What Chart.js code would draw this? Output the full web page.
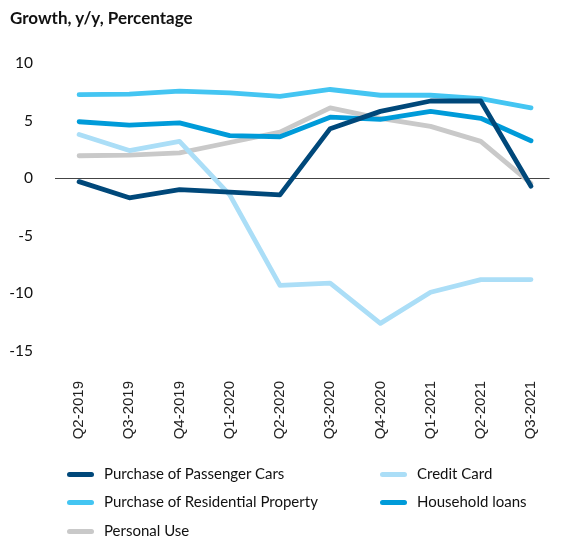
<!DOCTYPE html>
<html>
<head>
<meta charset="utf-8">
<script src="https://cdn.jsdelivr.net/npm/chart.js@4.4.1/dist/chart.umd.min.js"></script>
<style>
  body { margin: 0; background: #fff; }
  #wrap { position: relative; width: 571px; height: 538px; font-family: Lato, "Noto Sans", sans-serif; color: #111; }
  #titulo { position: absolute; left: 10px; top: 7px; font-size: 17px; font-weight: bold; }
  #leyenda { position: absolute; left: 67px; top: 463px; width: 480px; }
  .item { position: absolute; font-size: 15px; white-space: nowrap; height: 20px; line-height: 20px; }
  .item i { display: inline-block; width: 27px; height: 5px; border-radius: 3px; vertical-align: middle; margin-right: 10px; position: relative; top: -1px; }
</style>
</head>
<body>
<div id="wrap">
  <div id="titulo">Growth, y/y, Percentage</div>
  <canvas id="grafico" width="571" height="538"></canvas>
  <div id="leyenda"></div>
</div>
<script>
// --- DATOS ---
const trimestres = ['Q2-2019', 'Q3-2019', 'Q4-2019', 'Q1-2020', 'Q2-2020', 'Q3-2020', 'Q4-2020', 'Q1-2021', 'Q2-2021', 'Q3-2021'];
const autos       = [-0.3, -1.7, -1.0, -1.2, -1.45, 4.3, 5.8, 6.7, 6.7, -0.7];
const tarjeta     = [3.8, 2.4, 3.2, -1.45, -9.3, -9.1, -12.6, -9.9, -8.8, -8.8];
const vivienda    = [7.25, 7.3, 7.55, 7.4, 7.1, 7.7, 7.2, 7.2, 6.9, 6.1];
const hogares     = [4.9, 4.6, 4.8, 3.7, 3.6, 5.3, 5.1, 5.8, 5.2, 3.25];
const personal    = [1.95, 2.0, 2.2, 3.1, 4.0, 6.1, 5.2, 4.5, 3.2, -0.45];
const ticksY      = [-15, -10, -5, 0, 5, 10];

const series = [
    { nombre: 'Purchase of Passenger Cars', datos: autos, color: '#00487a' },
    { nombre: 'Credit Card', datos: tarjeta, color: '#abdef7' },
    { nombre: 'Purchase of Residential Property', datos: vivienda, color: '#44c5f2' },
    { nombre: 'Household loans', datos: hogares, color: '#009bd9' },
    { nombre: 'Personal Use', datos: personal, color: '#c9c9c9' }
];

// --- GRAFICO ---
new Chart(document.getElementById('grafico'), {
    type: 'line',
    data: {
        datasets: series.map(s => ({
            label: s.nombre,
            data: s.datos.map((v, i) => ({ x: i, y: v })),
            borderColor: s.color,
            backgroundColor: s.color,
            borderWidth: 4.8,
            pointRadius: 0,
            tension: 0,
            borderJoinStyle: 'round',
            borderCapStyle: 'round'
        }))
    },
    options: {
        responsive: false,
        animation: false,
        layout: { padding: { top: 63, bottom: 97, left: 0, right: 0 } },
        plugins: { legend: { display: false }, tooltip: { enabled: false } },
        scales: {
            x: {
                type: 'linear',
                min: -0.48,
                max: 9.37,
                afterBuildTicks: eje => { eje.ticks = trimestres.map((_, i) => ({ value: i })); },
                afterFit: eje => { eje.height = 90; },
                grid: { display: false },
                border: { display: false },
                ticks: {
                    minRotation: 90,
                    maxRotation: 90,
                    padding: 22,
                    color: '#222',
                    font: { family: 'Arial', size: 15 },
                    callback: v => trimestres[v]
                }
            },
            y: {
                min: -15,
                max: 10,
                afterBuildTicks: eje => { eje.ticks = ticksY.map(v => ({ value: v })); },
                afterFit: eje => { eje.width = 55; },
                border: { display: false },
                grid: {
                    drawTicks: false,
                    color: ctx => ctx.tick && ctx.tick.value === 0 ? '#444' : 'rgba(0,0,0,0)',
                    lineWidth: 1
                },
                ticks: {
                    padding: 22,
                    color: '#111',
                    font: { family: 'Lato', size: 15.5 }
                }
            }
        }
    }
});

// --- LEYENDA ---
const posiciones = [[0, 0], [313, 0], [0, 28], [313, 28], [0, 57]];
const leyenda = document.getElementById('leyenda');
series.forEach((s, i) => {
    const el = document.createElement('div');
    el.className = 'item';
    el.style.left = posiciones[i][0] + 'px';
    el.style.top = posiciones[i][1] + 'px';
    el.innerHTML = `<i style="background:${s.color}"></i>${s.nombre}`;
    leyenda.appendChild(el);
});
</script>
</body>
</html>
